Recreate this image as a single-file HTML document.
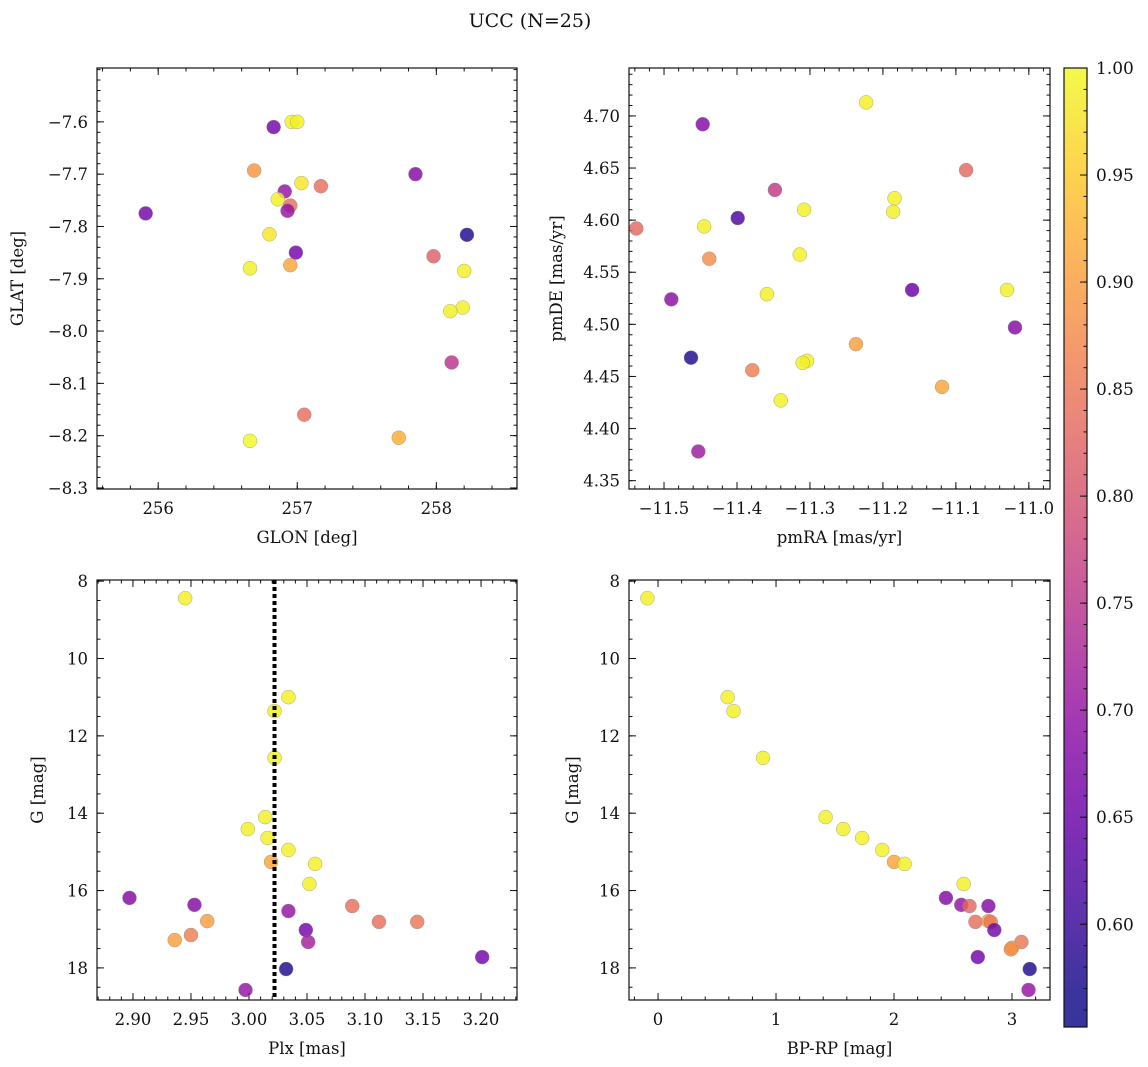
<!DOCTYPE html>
<html><head><meta charset="utf-8"><style>
body{margin:0;background:#fff}
svg{display:block}
text{font-family:"DejaVu Serif","Liberation Serif",serif;fill:#111}
</style></head><body>
<svg id="fig" width="1148" height="1067" viewBox="0 0 1148 1067" xmlns="http://www.w3.org/2000/svg">
<text x="530" y="27" font-size="19" text-anchor="middle">UCC (N=25)</text>
</svg>
<script>
// Panel 1: GLON/GLAT
const glon=[255.91,256.83,256.96,257.0,256.69,257.03,257.17,256.91,256.86,256.95,256.93,256.80,256.99,256.66,256.95,257.85,258.22,257.98,258.20,258.19,258.10,258.11,257.05,256.66,257.73];
const glat=[-7.775,-7.61,-7.60,-7.60,-7.693,-7.717,-7.723,-7.733,-7.748,-7.76,-7.77,-7.815,-7.85,-7.88,-7.874,-7.70,-7.816,-7.857,-7.885,-7.955,-7.962,-8.06,-8.16,-8.21,-8.204];
const probA=[0.66,0.66,0.99,0.99,0.89,0.98,0.84,0.70,0.99,0.84,0.70,0.98,0.66,0.99,0.91,0.68,0.58,0.82,0.99,0.99,0.99,0.75,0.84,1.0,0.92];
// Panel 2: pmRA/pmDE
const pmra=[-11.223,-11.447,-11.086,-11.348,-11.184,-11.399,-11.308,-11.186,-11.538,-11.445,-11.438,-11.314,-11.359,-11.160,-11.030,-11.490,-11.019,-11.237,-11.463,-11.304,-11.310,-11.379,-11.119,-11.340,-11.453];
const pmde=[4.713,4.692,4.648,4.629,4.621,4.602,4.610,4.608,4.592,4.594,4.563,4.567,4.529,4.533,4.533,4.524,4.497,4.481,4.468,4.465,4.463,4.456,4.440,4.427,4.378];
const probB=[0.99,0.68,0.83,0.76,0.99,0.62,0.99,0.99,0.83,0.99,0.88,0.99,0.99,0.65,0.99,0.69,0.68,0.90,0.58,0.99,0.99,0.86,0.91,0.99,0.71];
// Panel 3: Plx/G
const plx=[2.945,3.034,3.022,3.022,3.014,2.999,3.016,3.034,3.019,3.057,3.052,2.897,2.953,3.089,2.964,3.034,3.112,3.145,2.950,2.936,3.049,3.051,3.201,3.032,2.997];
const gC=[8.44,11.0,11.36,12.57,14.1,14.41,14.64,14.95,15.26,15.31,15.83,16.19,16.37,16.40,16.79,16.53,16.81,16.81,17.15,17.28,17.02,17.33,17.72,18.03,18.57];
const probC=[0.99,0.99,0.99,0.99,0.99,0.99,0.99,0.99,0.91,0.99,0.99,0.68,0.68,0.84,0.90,0.70,0.84,0.85,0.86,0.90,0.66,0.72,0.66,0.58,0.70];
const plxRef=[3.022];
// Panel 4: BP-RP/G
const bprp=[-0.09,0.59,0.64,0.89,1.42,1.57,1.73,1.90,2.00,2.09,2.59,2.44,2.57,2.80,2.64,2.69,2.80,2.82,2.85,2.71,3.08,3.00,2.99,3.15,3.14];
const gD=[8.44,11.0,11.36,12.57,14.1,14.41,14.64,14.95,15.26,15.31,15.83,16.19,16.37,16.40,16.40,16.81,16.79,16.81,17.02,17.72,17.33,17.48,17.52,18.03,18.57];
const probD=[0.99,0.99,0.99,0.99,0.99,0.99,0.99,0.99,0.91,0.99,0.99,0.68,0.70,0.68,0.83,0.84,0.90,0.85,0.66,0.66,0.85,0.90,0.88,0.58,0.70];
const cbTicks=[0.60,0.65,0.70,0.75,0.80,0.85,0.90,0.95,1.00];

const NS="http://www.w3.org/2000/svg";
const svg=document.getElementById('fig');
const VMIN=0.565,VMAX=1.0;
const stops=[[0,13,8,135],[0.1,65,4,157],[0.2,106,0,168],[0.3,143,13,164],[0.4,177,42,144],[0.5,204,71,120],[0.6,225,100,98],[0.7,242,132,75],[0.8,252,166,54],[0.9,252,206,37],[1,240,249,33]];
function plasma(v){let t=Math.max(0,Math.min(1,(v-VMIN)/(VMAX-VMIN)));
 for(let i=1;i<stops.length;i++){if(t<=stops[i][0]){const a=stops[i-1],b=stops[i],f=(t-a[0])/(b[0]-a[0]);
 return `rgb(${Math.round(a[1]+f*(b[1]-a[1]))},${Math.round(a[2]+f*(b[2]-a[2]))},${Math.round(a[3]+f*(b[3]-a[3]))})`;}}
 return 'rgb(240,249,33)';}
function el(tag,attrs,parent){const e=document.createElementNS(NS,tag);for(const k in attrs)e.setAttribute(k,attrs[k]);(parent||svg).appendChild(e);return e;}
function fmt(v,d){let s=v.toFixed(d);return s.replace('-','\u2212');}

function panel(o){
 const g=el('g',{});
 
 
 const sx=v=>o.x0+(v-o.xmin)/(o.xmax-o.xmin)*(o.x1-o.x0);
 const sy=o.yinv?(v=>o.y0+(v-o.ymin)/(o.ymax-o.ymin)*(o.y1-o.y0)):(v=>o.y1-(v-o.ymin)/(o.ymax-o.ymin)*(o.y1-o.y0));
 const tk=el('g',{stroke:'#111','stroke-width':1},g);
 
 
 const eps=1e-9;
 function range(a,b,s){const r=[];const st=Math.ceil((Math.min(a,b)-eps)/s);for(let k=st;k*s<=Math.max(a,b)+eps;k++)r.push(k*s);return r;}
 range(o.xmin,o.xmax,o.xminor).forEach(v=>{const x=sx(v);el('line',{x1:x,x2:x,y1:o.y1,y2:o.y1-3.5},tk);el('line',{x1:x,x2:x,y1:o.y0,y2:o.y0+3.5},tk);});
 range(o.ymin,o.ymax,o.yminor).forEach(v=>{const y=sy(v);el('line',{x1:o.x0,x2:o.x0+3.5,y1:y,y2:y},tk);el('line',{x1:o.x1,x2:o.x1-3.5,y1:y,y2:y},tk);});
 o.xticks.forEach(v=>{const x=sx(v);el('line',{x1:x,x2:x,y1:o.y1,y2:o.y1-7},tk);el('line',{x1:x,x2:x,y1:o.y0,y2:o.y0+7},tk);
  const t=el('text',{x:x,y:o.y1+25,'font-size':16.5,'text-anchor':'middle'},g);t.textContent=fmt(v,o.xd);
  
  });
 o.yticks.forEach(v=>{const y=sy(v);el('line',{x1:o.x0,x2:o.x0+7,y1:y,y2:y},tk);el('line',{x1:o.x1,x2:o.x1-7,y1:y,y2:y},tk);
  const t=el('text',{x:o.x0-9,y:y+6,'font-size':16.5,'text-anchor':'end'},g);t.textContent=fmt(v,o.yd);
  
  });
 const pts=el('g',{},g);
 
 
 o.xs.forEach((xv,i)=>{const c=el('circle',{cx:sx(xv),cy:sy(o.ys[i]),r:7,fill:plasma(o.ps[i]),'fill-opacity':0.82,stroke:'#888','stroke-width':0.5,'stroke-opacity':0.7},pts);
  
  });
 if(o.vline){o.vline.forEach(v=>{const l=el('line',{x1:sx(v),x2:sx(v),y1:o.y0,y2:o.y1,stroke:'#000','stroke-width':4,'stroke-dasharray':'4 3'},g);
  
  });}
 const fr=el('rect',{x:o.x0,y:o.y0,width:o.x1-o.x0,height:o.y1-o.y0,fill:'none',stroke:'#111','stroke-width':1.2},g);
 
 
 const xl=el('text',{x:(o.x0+o.x1)/2,y:o.y1+54,'font-size':16.5,'text-anchor':'middle'},g);xl.textContent=o.xlabel;
 
 
 const yx=o.ylx,yy=(o.y0+o.y1)/2;
 const yl=el('text',{x:yx,y:yy,'font-size':16.5,'text-anchor':'middle',transform:`rotate(-90 ${yx} ${yy})`},g);yl.textContent=o.ylabel;
 
 
}
panel({name:'glon-glat-panel',x0:97,x1:517,y0:68,y1:489,xmin:255.56,xmax:258.58,ymin:-8.302,ymax:-7.497,xticks:[256,257,258],xd:0,yticks:[-8.3,-8.2,-8.1,-8.0,-7.9,-7.8,-7.7,-7.6],yd:1,xminor:0.2,yminor:0.02,xs:glon,ys:glat,ps:probA,xlabel:'GLON [deg]',ylabel:'GLAT [deg]',ylx:23});
panel({name:'pm-panel',x0:629,x1:1050,y0:68,y1:489,xmin:-11.548,xmax:-10.971,ymin:4.342,ymax:4.746,xticks:[-11.5,-11.4,-11.3,-11.2,-11.1,-11.0],xd:1,yticks:[4.35,4.40,4.45,4.50,4.55,4.60,4.65,4.70],yd:2,xminor:0.02,yminor:0.01,xs:pmra,ys:pmde,ps:probB,xlabel:'pmRA [mas/yr]',ylabel:'pmDE [mas/yr]',ylx:562});
panel({name:'plx-g-panel',x0:97,x1:517,y0:580,y1:1000,xmin:2.869,xmax:3.231,ymin:7.97,ymax:18.83,yinv:true,xticks:[2.90,2.95,3.00,3.05,3.10,3.15,3.20],xd:2,yticks:[8,10,12,14,16,18],yd:0,xminor:0.01,yminor:0.5,xs:plx,ys:gC,ps:probC,vline:plxRef,xlabel:'Plx [mas]',ylabel:'G [mag]',ylx:43});
panel({name:'cmd-panel',x0:629,x1:1050,y0:580,y1:1000,xmin:-0.246,xmax:3.322,ymin:7.97,ymax:18.83,yinv:true,xticks:[0,1,2,3],xd:0,yticks:[8,10,12,14,16,18],yd:0,xminor:0.2,yminor:0.5,xs:bprp,ys:gD,ps:probD,xlabel:'BP-RP [mag]',ylabel:'G [mag]',ylx:578});

// colorbar
const cb=el('g',{});


const defs=el('defs',{},cb);const lg=el('linearGradient',{id:'pg',x1:0,y1:1,x2:0,y2:0},defs);
const CBMIN=0.552;
for(let i=0;i<=30;i++){const v=CBMIN+(VMAX-CBMIN)*i/30;el('stop',{offset:i/30,'stop-color':plasma(v)},lg);}
const CB={x0:1064,x1:1087,y0:68,y1:1027};
const cy=v=>CB.y1-(v-CBMIN)/(VMAX-CBMIN)*(CB.y1-CB.y0);
el('rect',{x:CB.x0,y:CB.y0,width:CB.x1-CB.x0,height:CB.y1-CB.y0,fill:'url(#pg)','fill-opacity':0.82},cb);
el('rect',{x:CB.x0,y:CB.y0,width:CB.x1-CB.x0,height:CB.y1-CB.y0,fill:'none',stroke:'#111','stroke-width':1.2},cb);
for(let k=56;k<=100;k++){const v=k/100;const y=cy(v);el('line',{x1:CB.x1,x2:CB.x1-3.5,y1:y,y2:y,stroke:'#111'},cb);}
cbTicks.forEach(v=>{const y=cy(v);el('line',{x1:CB.x1,x2:CB.x1-7,y1:y,y2:y,stroke:'#111'},cb);
 const t=el('text',{x:CB.x1+9,y:y+6,'font-size':17},cb);t.textContent=v.toFixed(2);
 
 });
</script>
</body></html>
